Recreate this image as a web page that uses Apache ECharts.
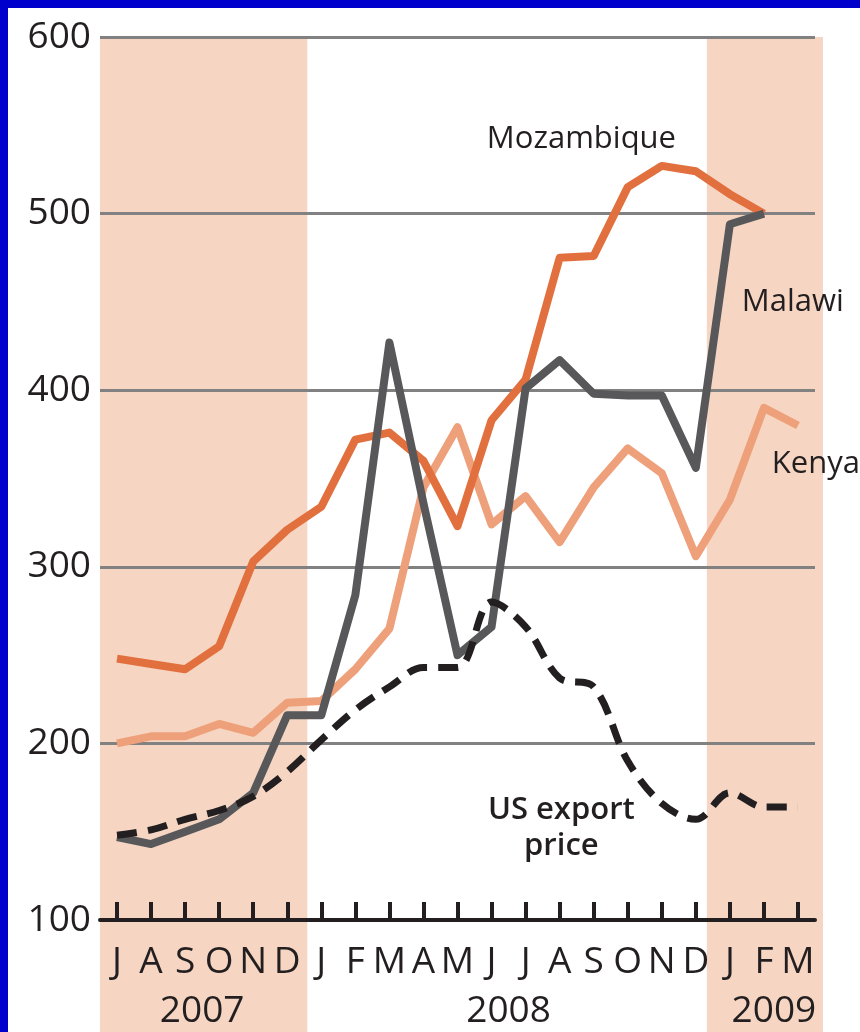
<!DOCTYPE html>
<html>
<head>
<meta charset="utf-8">
<style>
  html, body { margin: 0; padding: 0; background: #fff; }
  #frame { position: absolute; left: 0; top: 0; width: 860px; height: 1032px; background: #0000CC; }
  #chart { position: absolute; left: 8px; top: 8px; width: 852px; height: 1024px; background: #fff; }
</style>
</head>
<body>
<div id="frame"></div>
<div id="chart"></div>
<script src="https://cdn.jsdelivr.net/npm/echarts@6.0.0/dist/echarts.min.js"></script>
<script>
  // Months, July 2007 to March 2009.
  const months = ['Jul07', 'Aug07', 'Sep07', 'Oct07', 'Nov07', 'Dec07',
    'Jan08', 'Feb08', 'Mar08', 'Apr08', 'May08', 'Jun08', 'Jul08', 'Aug08',
    'Sep08', 'Oct08', 'Nov08', 'Dec08', 'Jan09', 'Feb09', 'Mar09'];
  const monthLetters = ['J', 'A', 'S', 'O', 'N', 'D', 'J', 'F', 'M', 'A', 'M',
    'J', 'J', 'A', 'S', 'O', 'N', 'D', 'J', 'F', 'M'];
  const years = ['2007', '2008', '2009'];
  const yearStart = ['Jul07', 'Jan08', 'Jan09'];
  const yearEnd = ['Dec07', 'Dec08', 'Mar09'];
  // Shaded periods.
  const shadeStart = ['Jul07', 'Jan09'];
  const shadeEnd = ['Dec07', 'Mar09'];

  // Prices.
  const mozambique = [248, 245, 242, 255, 303, 321, 334, 372, 376, 360, 323,
    383, 406, 475, 476, 515, 527, 524, 511, 500, null];
  const malawi = [147, 143, 150, 157, 172, 216, 216, 284, 427, 336, 250,
    266, 401, 417, 398, 397, 397, 356, 494, 500, null];
  const kenya = [200, 204, 204, 211, 206, 223, 224, 242, 265, 345, 379,
    324, 340, 314, 345, 367, 353, 306, 338, 390, 380];
  const usExport = [148, 151, 157, 162, 170, 184, 202, 219, 232, 243, 243,
    280, 266, 237, 232, 190, 166, 157, 172, 164, 164];

  const yTicks = [100, 200, 300, 400, 500, 600];

  const ink = '#231F20';
  const font = '"Open Sans", "Noto Sans", sans-serif';

  const chart = echarts.init(document.getElementById('chart'));

  function line(name, data, color, width, dashed, smooth) {
    return {
      name: name,
      type: 'line',
      data: data,
      symbol: 'none',
      smooth: smooth,
      animation: false,
      lineStyle: { color: color, width: width, type: dashed ? [20, 11] : 'solid', cap: 'butt', join: 'round' }
    };
  }

  chart.setOption({
    animation: false,
    grid: { left: 92, right: 45, top: 29, bottom: 112 },
    xAxis: {
      type: 'category',
      data: months,
      boundaryGap: true,
      axisLine: { lineStyle: { color: ink, width: 4 } },
      axisTick: { show: true, inside: true, length: 18, alignWithLabel: true, interval: 0,
        lineStyle: { color: ink, width: 4 } },
      axisLabel: { interval: 0, margin: 24, fontSize: 37, fontFamily: font, color: ink,
        formatter: (v, i) => monthLetters[i] },
      splitLine: { show: false }
    },
    yAxis: {
      type: 'value',
      min: yTicks[0],
      max: yTicks[yTicks.length - 1],
      interval: 100,
      axisLine: { show: false },
      axisTick: { show: false },
      axisLabel: { margin: 9, fontSize: 37, fontFamily: font, color: ink },
      splitLine: { lineStyle: { color: '#818181', width: 3 } }
    },
    series: [
      line('Kenya', kenya, '#EEA07A', 8, false, false),
      line('Mozambique', mozambique, '#E2703F', 8, false, false),
      line('Malawi', malawi, '#58585A', 8, false, false),
      line('US export price', usExport, ink, 7, true, 0.35)
    ]
  });

  // Shading, year labels and series labels placed through the axes.
  const xOf = (m) => chart.convertToPixel({ xAxisIndex: 0 }, m);
  const yOf = (v) => chart.convertToPixel({ yAxisIndex: 0 }, v);
  const step = xOf(months[1]) - xOf(months[0]);
  const xAt = (idx) => xOf(months[0]) + idx * step;
  const plotTop = yOf(yTicks[yTicks.length - 1]);
  const H = chart.getHeight();

  const graphics = [];
  for (let i = 0; i < shadeStart.length; i++) {
    const first = i === 0, last = i === shadeStart.length - 1;
    const l = xOf(shadeStart[i]) - step / 2 - (first ? 0 : 6);
    const r = xOf(shadeEnd[i]) + step / 2 + (last ? 8 : 3);
    graphics.push({ type: 'rect', z: -10, silent: true,
      shape: { x: l, y: plotTop, width: r - l, height: H - plotTop },
      style: { fill: '#F6D6C2' } });
  }
  for (let i = 0; i < years.length; i++) {
    const c = (xOf(yearStart[i]) + xOf(yearEnd[i])) / 2 + (i === 2 ? 10 : 0);
    graphics.push({ type: 'text', z: 10, x: c, y: 1003,
      style: { text: years[i], fill: ink, font: '37px ' + font, align: 'center', verticalAlign: 'middle' } });
  }

  // Series labels: [text, month index, value, align, bold]
  const seriesLabels = [
    ['Mozambique', 13.64, 542, 'center', false],
    ['Malawi', 18.35, 450, 'left', false],
    ['Kenya', 19.23, 358, 'left', false],
    ['US export\nprice', 13.05, 152, 'center', true]
  ];
  seriesLabels.forEach(([text, idx, val, align, bold]) => {
    graphics.push({ type: 'text', z: 10, x: xAt(idx), y: yOf(val),
      style: { text: text, fill: ink, font: (bold ? '600 ' : '') + '31px ' + font,
        align: align, verticalAlign: 'middle', lineHeight: 36 } });
  });

  chart.setOption({ graphic: graphics });
</script>
</body>
</html>
